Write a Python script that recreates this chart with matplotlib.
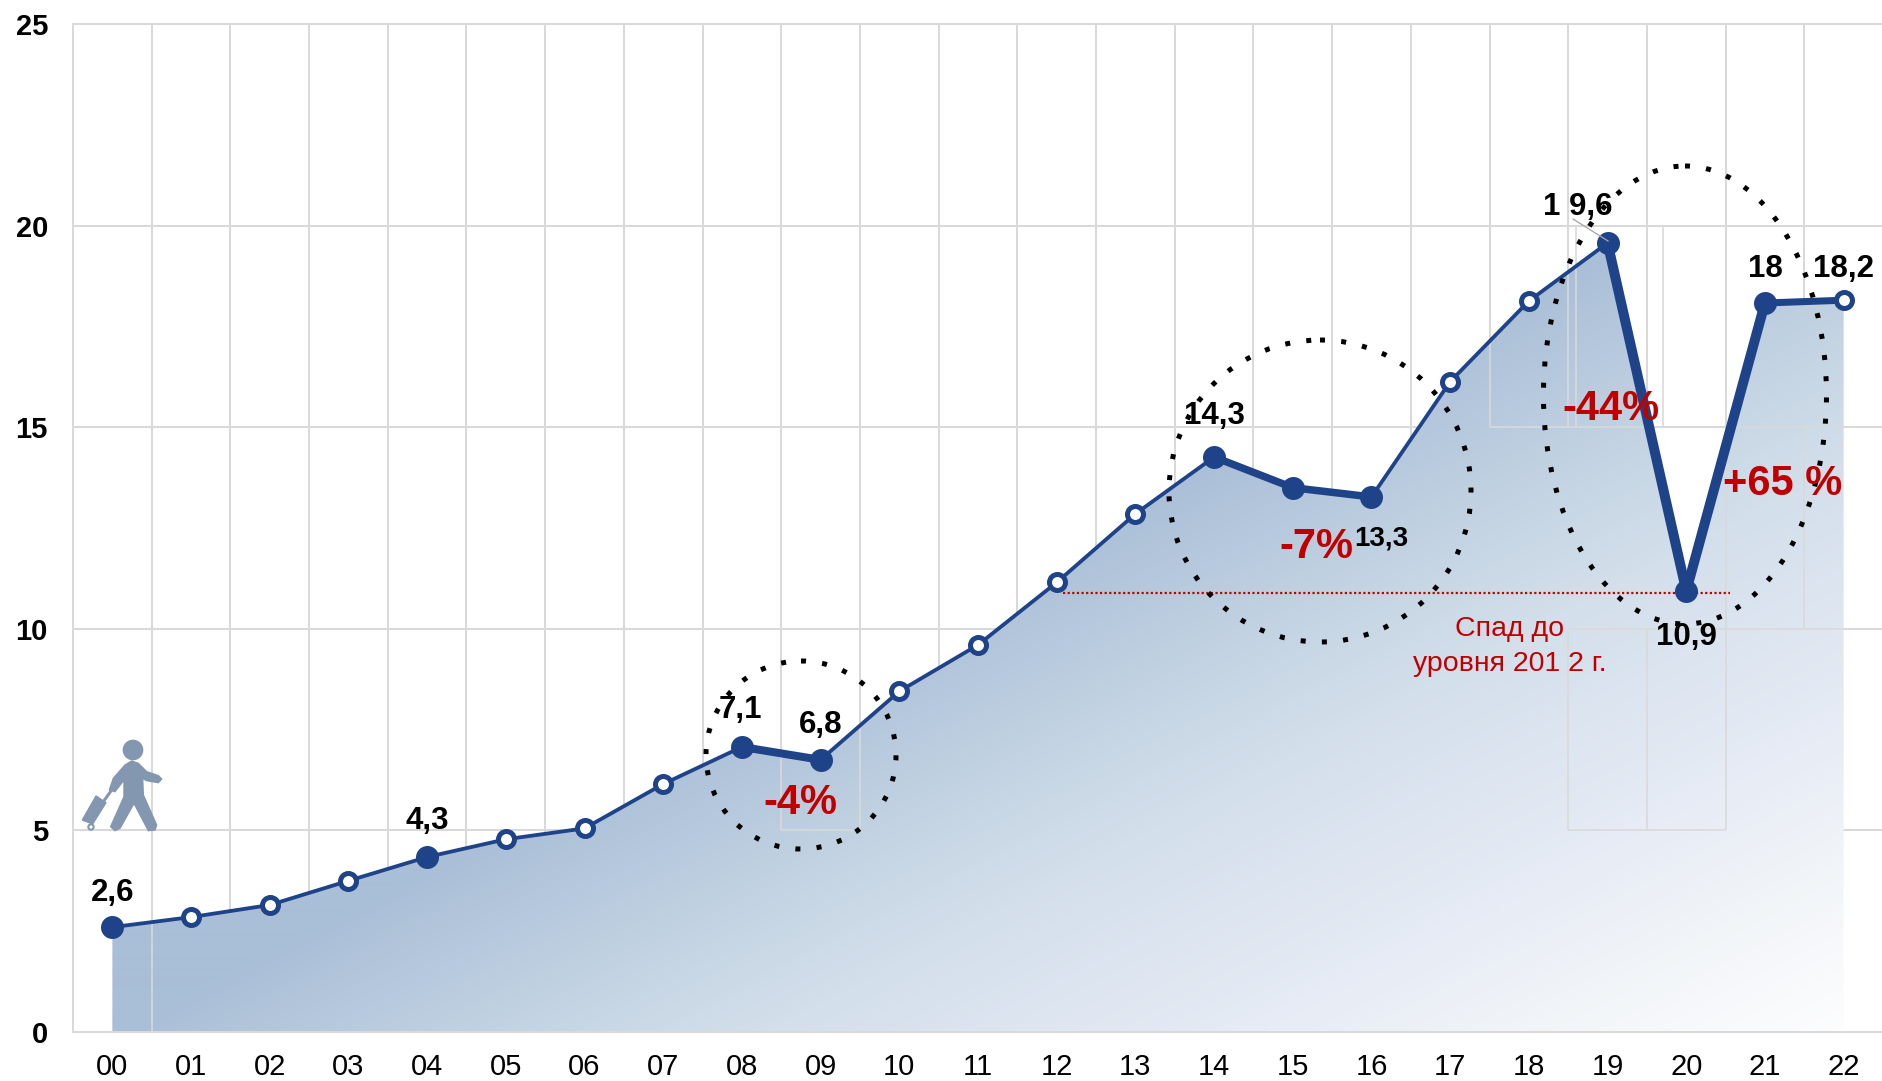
import numpy as np
import matplotlib
matplotlib.use("Agg")
import matplotlib.pyplot as plt
from matplotlib.colors import LinearSegmentedColormap
from matplotlib.patches import Circle, Ellipse, Polygon
from matplotlib.transforms import Affine2D

plt.rcParams["font.family"] = ["Liberation Sans", "DejaVu Sans"]

W, H = 1883, 1081

years = ["00", "01", "02", "03", "04", "05", "06", "07", "08", "09", "10", "11",
         "12", "13", "14", "15", "16", "17", "18", "19", "20", "21", "22"]
values = [2.6, 2.85, 3.15, 3.75, 4.34, 4.78, 5.05, 6.15, 7.07, 6.75, 8.45, 9.6,
          11.15, 12.85, 14.26, 13.5, 13.27, 16.13, 18.13, 19.57, 10.94, 18.08, 18.15]
filled_points = [0, 4, 8, 9, 14, 15, 16, 19, 20, 21]
yticks = [0, 5, 10, 15, 20, 25]
drop_level = 10.9

# index, text, offset in pixels from the point, font size
value_labels = [(0, "2,6", 0, -34, 22.5), (4, "4,3", 0, -36, 22.5), (8, "7,1", -2, -37, 22.5),
                (9, "6,8", 0, -35, 22.5), (14, "14,3", 0, -41, 22.5), (16, "13,3", 10, 42, 20),
                (19, "1 9,6", -30, -36, 22.5), (20, "10,9", 0, 46, 22.5), (21, "18", 0, -34, 22.5),
                (22, "18,2", 0, -31, 22.5)]
# thick segments: from index, to index, width in px
thick_segments = [(8, 9, 8), (14, 15, 7.5), (15, 16, 7.5), (19, 20, 10), (20, 21, 10), (21, 22, 7)]
pct_labels = [("-4%", 800, 803), ("-7%", 1316, 547), ("-44%", 1611, 409), ("+65 %", 1783, 484)]
# ellipses in px: centre x, centre y, width, height
ellipses = [(801, 755, 190, 188), (1320, 491, 302, 302), (1685, 395, 283, 458)]
# leftover grid pieces that show over the fill (x0, y0, x1, y1)
overlay_lines = [(0.5, 0, 0.5, 2.8), (8.5, 5, 9.5, 5), (8.5, 5, 8.5, 6.9), (9.5, 5, 9.5, 7.6),
                 (17.5, 15, 19.7, 15), (17.5, 15, 17.5, 17.1), (18.5, 15, 18.5, 18.85),
                 (18.6, 15, 18.6, 20), (18.5, 20, 19.7, 20), (19.7, 15, 19.7, 20),
                 (20.5, 15, 22, 15), (20.5, 5, 20.5, 15), (21.5, 10, 21.5, 15),
                 (18.5, 10, 22, 10), (18.5, 5, 20.5, 5), (18.5, 5, 18.5, 10), (19.5, 5, 19.5, 10)]
# colour stops of the area gradient along its diagonal
fill_stops = [(0, "#a9bed7"), (0.27, "#c8d7e5"), (0.38, "#d3dfeb"),
              (0.65, "#e6ebf5"), (0.8, "#f0f4f8"), (1, "#fdfdfe")]

BLUE = "#1f4389"
RED = "#c00000"
GRID = "#d9d9d9"
ICON = "#8497b0"


def px(v):
    # pixels to points at dpi 100
    return v * 0.72


fig = plt.figure(figsize=(W / 100, H / 100), dpi=100)
ax = fig.add_axes([73 / W, (H - 1032) / H, (W - 73) / W, (1032 - 24) / H])
x = np.arange(len(values))
ax.set_xlim(-0.5, 22.5)
ax.set_ylim(0, 25)

ax.set_xticks(x, years)
ax.set_xticks(x[:-1] + 0.5, minor=True)
ax.set_yticks(yticks)
ax.grid(True, which="minor", axis="x", color=GRID, lw=px(2))
ax.grid(True, which="major", axis="y", color=GRID, lw=px(2))
ax.set_axisbelow(True)
ax.tick_params(axis="both", which="both", length=0)
ax.tick_params(axis="x", labelsize=21, pad=15)
ax.tick_params(axis="y", labelsize=21, pad=18)
for lab in ax.get_yticklabels():
    lab.set_fontweight("bold")
for s in ax.spines.values():
    s.set_color(GRID)
    s.set_linewidth(px(2))

# pixel coordinates, y downwards
tp = Affine2D().scale(1, -1).translate(0, H)

# gradient area under the line
gx, gy = np.meshgrid(np.arange(73, W) + 0.5, np.arange(24, 1034) + 0.5)
t = np.clip(((gx - 112) * 0.4666 + (gy - 1032) * 0.8846) / 808, 0, 1)
cmap = LinearSegmentedColormap.from_list("area", fill_stops)
im = ax.imshow(t, cmap=cmap, vmin=0, vmax=1, extent=[-0.5, 22.5, 0, 25], aspect="auto",
               origin="upper", zorder=2, interpolation="bilinear")
area = Polygon(list(zip(x, values)) + [(22, 0), (0, 0)], closed=True, transform=ax.transData,
               fc="none", ec="none")
ax.add_patch(area)
im.set_clip_path(area)
ax.set_xlim(-0.5, 22.5)
ax.set_ylim(0, 25)

for x0, y0, x1, y1 in overlay_lines:
    ax.plot([x0, x1], [y0, y1], color=GRID, lw=px(1.6), zorder=3, solid_capstyle="butt")

ax.plot([12.08, 20.55], [drop_level, drop_level], color=RED, lw=px(2.2),
        ls=(0, (1, 1.1)), zorder=4)

ax.plot(x, values, color=BLUE, lw=px(3.8), zorder=5, solid_joinstyle="round")
for i0, i1, w in thick_segments:
    ax.plot([x[i0], x[i1]], [values[i0], values[i1]], color=BLUE, lw=px(w), zorder=5,
            solid_capstyle="butt")

open_points = [i for i in x if i not in filled_points]
ax.plot(x[open_points], np.array(values)[open_points], ls="none", marker="o", ms=px(16),
        mfc="white", mec=BLUE, mew=px(5), zorder=6)
ax.plot(x[filled_points], np.array(values)[filled_points], ls="none", marker="o", ms=px(23),
        mfc=BLUE, mec=BLUE, mew=0, zorder=6)

# dotted circles
for cx, cy, w, h in ellipses:
    ax.add_patch(Ellipse((cx, cy), w, h, transform=tp, fc="none", ec="black", lw=px(5),
                         ls=(0, (1, 3.25)), zorder=7, clip_on=False))

# leader for the peak label
ax.plot([1573, 1608], [219, 241], color="#a6a6a6", lw=px(1.3), transform=tp, zorder=8)

for i, text, dx, dy, size in value_labels:
    ax.annotate(text, (x[i], values[i]), xytext=(px(dx), -px(dy)), textcoords="offset points",
                ha="center", va="center", fontsize=size, fontweight="bold", color="black", zorder=9)

for text, tx, ty in pct_labels:
    ax.text(tx, ty, text, transform=tp, ha="center", va="center", fontsize=30,
            fontweight="bold", color=RED, zorder=9)

ax.text(1510, 629, "Спад до", transform=tp, ha="center", va="center", fontsize=20.5, color=RED, zorder=9)
ax.text(1510, 664, "уровня 201 2 г.", transform=tp, ha="center", va="center", fontsize=20.5, color=RED, zorder=9)

# walking person icon, traced in 3x coordinates of the crop at (0, 680)
ti = Affine2D().scale(1 / 3).translate(0, 680) + tp
body = [(375, 255), (395, 243), (415, 250), (440, 275), (475, 287), (485, 297), (475, 308),
        (440, 302), (428, 295), (430, 345), (470, 435), (465, 450), (445, 452), (402, 370),
        (360, 445), (345, 452), (332, 440), (372, 350), (372, 300), (345, 335), (328, 330), (340, 295)]
case = [(288, 348), (318, 368), (278, 432), (247, 420)]
ax.add_patch(Polygon(body, closed=True, transform=ti, fc=ICON, ec=ICON, lw=1, zorder=4))
ax.add_patch(Polygon(case, closed=True, transform=ti, fc=ICON, ec=ICON, lw=1, zorder=4))
ax.add_patch(Circle((399, 210), 31, transform=ti, fc=ICON, ec="none", zorder=4))
ax.add_patch(Circle((273, 441), 8, transform=ti, fc="white", ec=ICON, lw=1.5, zorder=4))
ax.plot([310, 335], [365, 330], color=ICON, lw=px(3), transform=ti, zorder=4)

fig.savefig("out.png", dpi=100)
plt.close(fig)
